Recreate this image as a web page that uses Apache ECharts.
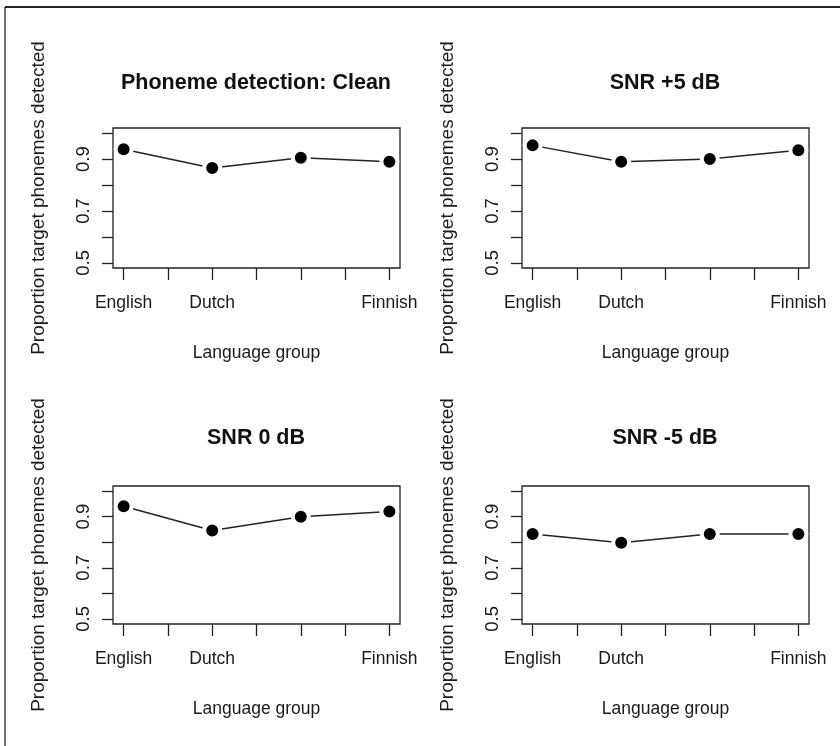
<!DOCTYPE html>
<html><head><meta charset="utf-8">
<script src="https://cdn.jsdelivr.net/npm/echarts@6/dist/echarts.min.js"></script>
<style>html,body{margin:0;padding:0;background:#fff}#c{width:840px;height:746px}</style>
</head><body><div id="c"></div>
<script>
// ---- data ----
const categories = ["English", "Dutch", "", "Finnish"];
const panelTitles = ["Phoneme detection: Clean", "SNR +5 dB", "SNR 0 dB", "SNR -5 dB"];
const clean     = [0.938, 0.866, 0.905, 0.890];
const snrPlus5  = [0.953, 0.890, 0.900, 0.934];
const snr0      = [0.941, 0.846, 0.900, 0.920];
const snrMinus5 = [0.832, 0.798, 0.832, 0.832];
const yTicks = [0.5, 0.6, 0.7, 0.8, 0.9, 1.0];
const yTickLabels = [0.5, 0.7, 0.9];
const xTicks = [1, 1.5, 2, 2.5, 3, 3.5, 4];
const xTickLabels = [1, 2, 3, 4];
const xLabel = "Language group";
const yLabel = "Proportion target phonemes detected";

const seriesValues = [clean, snrPlus5, snr0, snrMinus5];

// ---- layout ----
const FONT = '"Liberation Sans", Arial, sans-serif';
const grids = [
  { left: 113, top: 128, width: 287, height: 140 },
  { left: 522, top: 128, width: 287, height: 140 },
  { left: 113, top: 486, width: 287, height: 138 },
  { left: 522, top: 486, width: 287, height: 138 }
];
const titlePos = [[256, 83], [665, 83], [256, 438], [665, 438]];

const option = {
  animation: false,
  backgroundColor: '#fff',
  grid: grids.map(g => Object.assign({ show: true, borderColor: '#222', borderWidth: 1.3, backgroundColor: 'transparent' }, g)),
  xAxis: grids.map((g, i) => ({
    type: 'value', gridIndex: i, min: 0.88, max: 4.12,
    splitLine: { show: false },
    axisLine: { show: false },
    axisTick: { show: true, length: 12, customValues: xTicks, lineStyle: { color: '#222', width: 1.3 } },
    axisLabel: {
      show: true, customValues: xTickLabels, margin: 26,
      fontFamily: FONT, fontSize: 17.5, color: '#1a1a1a',
      formatter: v => categories[Math.round(v) - 1] || ''
    },
    name: xLabel, nameLocation: 'middle', nameGap: 76,
    nameTextStyle: { fontFamily: FONT, fontSize: 17.5, color: '#1a1a1a' }
  })),
  yAxis: grids.map((g, i) => ({
    type: 'value', gridIndex: i, min: 0.48, max: 1.02,
    splitLine: { show: false },
    axisLine: { show: false },
    axisTick: { show: true, length: 11, customValues: yTicks, lineStyle: { color: '#222', width: 1.3 } },
    axisLabel: {
      show: true, customValues: yTickLabels, rotate: 90, margin: 20,
      fontFamily: FONT, fontSize: 18.5, color: '#1a1a1a',
      formatter: v => v.toFixed(1)
    },
    name: yLabel, nameLocation: 'middle', nameGap: 65,
    nameTextStyle: { fontFamily: FONT, fontSize: 19, color: '#1a1a1a' }
  })),
  series: seriesValues.map((vals, i) => ({
    type: 'line', xAxisIndex: i, yAxisIndex: i,
    data: vals.map((v, k) => [k + 1, v]),
    symbol: 'circle', symbolSize: 16, showSymbol: true,
    lineStyle: { color: '#222', width: 1.5 },
    itemStyle: { color: '#000', borderColor: '#fff', borderWidth: 4 },
    z: 3
  })),
  graphic: [
    { type: 'line', shape: { x1: 5, y1: 7, x2: 840, y2: 7 }, style: { stroke: '#222', lineWidth: 2 } },
    { type: 'line', shape: { x1: 5, y1: 7, x2: 5, y2: 746 }, style: { stroke: '#222', lineWidth: 1.3 } }
  ].concat(panelTitles.map((t, i) => ({
    type: 'text', x: titlePos[i][0], y: titlePos[i][1],
    style: { text: t, fontFamily: FONT, fontSize: 21.5, fontWeight: 'bold', fill: '#111', textAlign: 'center', textVerticalAlign: 'middle' }
  })))
};

const chart = echarts.init(document.getElementById('c'), null, { renderer: 'canvas' });
chart.setOption(option);
</script>
</body></html>
